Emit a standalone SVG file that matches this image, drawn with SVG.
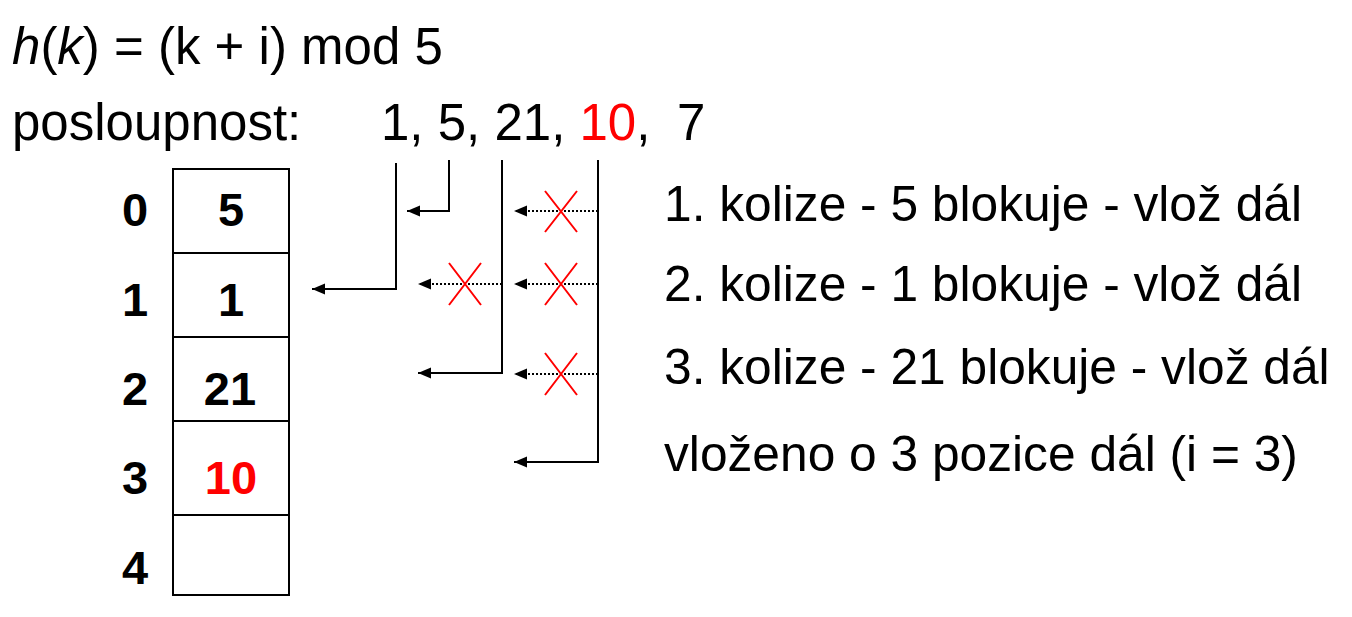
<svg xmlns="http://www.w3.org/2000/svg" width="1352" height="617" viewBox="0 0 1352 617">
<style>
text{font-family:"Liberation Sans",Arial,sans-serif;fill:#000}
.big{font-size:51px}
.note{font-size:49.7px}
.b{font-size:47px;font-weight:bold}
.red{fill:#f00}
.cell{fill:#fff;stroke:#000;stroke-width:2}
.ln{fill:none;stroke:#000;stroke-width:2}
.dot{fill:none;stroke:#000;stroke-width:2;stroke-dasharray:2 2}
.x{stroke:#f00;stroke-width:2}
</style>
<defs>
<marker id="ah" viewBox="0 0 14 12" markerWidth="14" markerHeight="12" refX="13" refY="6" orient="auto" markerUnits="userSpaceOnUse" overflow="visible">
<path d="M0,0.5 L13,6 L0,11.5 Z" fill="#000"/>
</marker>
</defs>
<g id="header">
<text class="big" x="12" y="64" font-size="51.6"><tspan font-style="italic">h</tspan>(<tspan font-style="italic">k</tspan>) = (k + i) mod 5</text>
<text class="big" x="12" y="140">posloupnost:</text>
<text class="big" y="140"><tspan x="381">1, 5, 21, </tspan><tspan class="red">10</tspan><tspan>,</tspan><tspan x="677">7</tspan></text>
</g>
<g id="table">
<rect class="cell" x="173" y="169" width="116" height="84"/>
<rect class="cell" x="173" y="253" width="116" height="84"/>
<rect class="cell" x="173" y="337" width="116" height="84"/>
<rect class="cell" x="173" y="421" width="116" height="94"/>
<rect class="cell" x="173" y="515" width="116" height="80"/>
<g text-anchor="middle">
<text class="b" x="231" y="226">5</text>
<text class="b" x="231" y="316">1</text>
<text class="b" x="230" y="405">21</text>
<text class="b red" x="231" y="494">10</text>
<text class="b" x="135" y="226">0</text>
<text class="b" x="135" y="316">1</text>
<text class="b" x="135" y="405">2</text>
<text class="b" x="135" y="494">3</text>
<text class="b" x="135" y="584">4</text>
</g>
</g>
<g id="connectors">
<path class="ln" d="M396,163 V289 H312" marker-end="url(#ah)"/>
<path class="ln" d="M449,160 V211 H407" marker-end="url(#ah)"/>
<path class="ln" d="M502,160 V373 H418" marker-end="url(#ah)"/>
<path class="ln" d="M598,160 V462 H514" marker-end="url(#ah)"/>
<path class="dot" d="M502,284 H418" marker-end="url(#ah)"/>
<path class="dot" d="M598,211 H514" marker-end="url(#ah)"/>
<path class="dot" d="M598,284 H514" marker-end="url(#ah)"/>
<path class="dot" d="M598,374 H514" marker-end="url(#ah)"/>
</g>
<g id="crosses">
<path class="x" d="M449,263 L481,305 M481,263 L449,305"/>
<path class="x" d="M545,191 L577,232 M577,191 L545,232"/>
<path class="x" d="M545,263 L577,305 M577,263 L545,305"/>
<path class="x" d="M545,353 L577,395 M577,353 L545,395"/>
</g>
<g id="notes">
<text class="note" x="664" y="221">1. kolize - 5 blokuje - vlož dál</text>
<text class="note" x="664" y="301">2. kolize - 1 blokuje - vlož dál</text>
<text class="note" x="664" y="384">3. kolize - 21 blokuje - vlož dál</text>
<text class="note" x="664" y="471">vloženo o 3 pozice dál (i = 3)</text>
</g>
</svg>
